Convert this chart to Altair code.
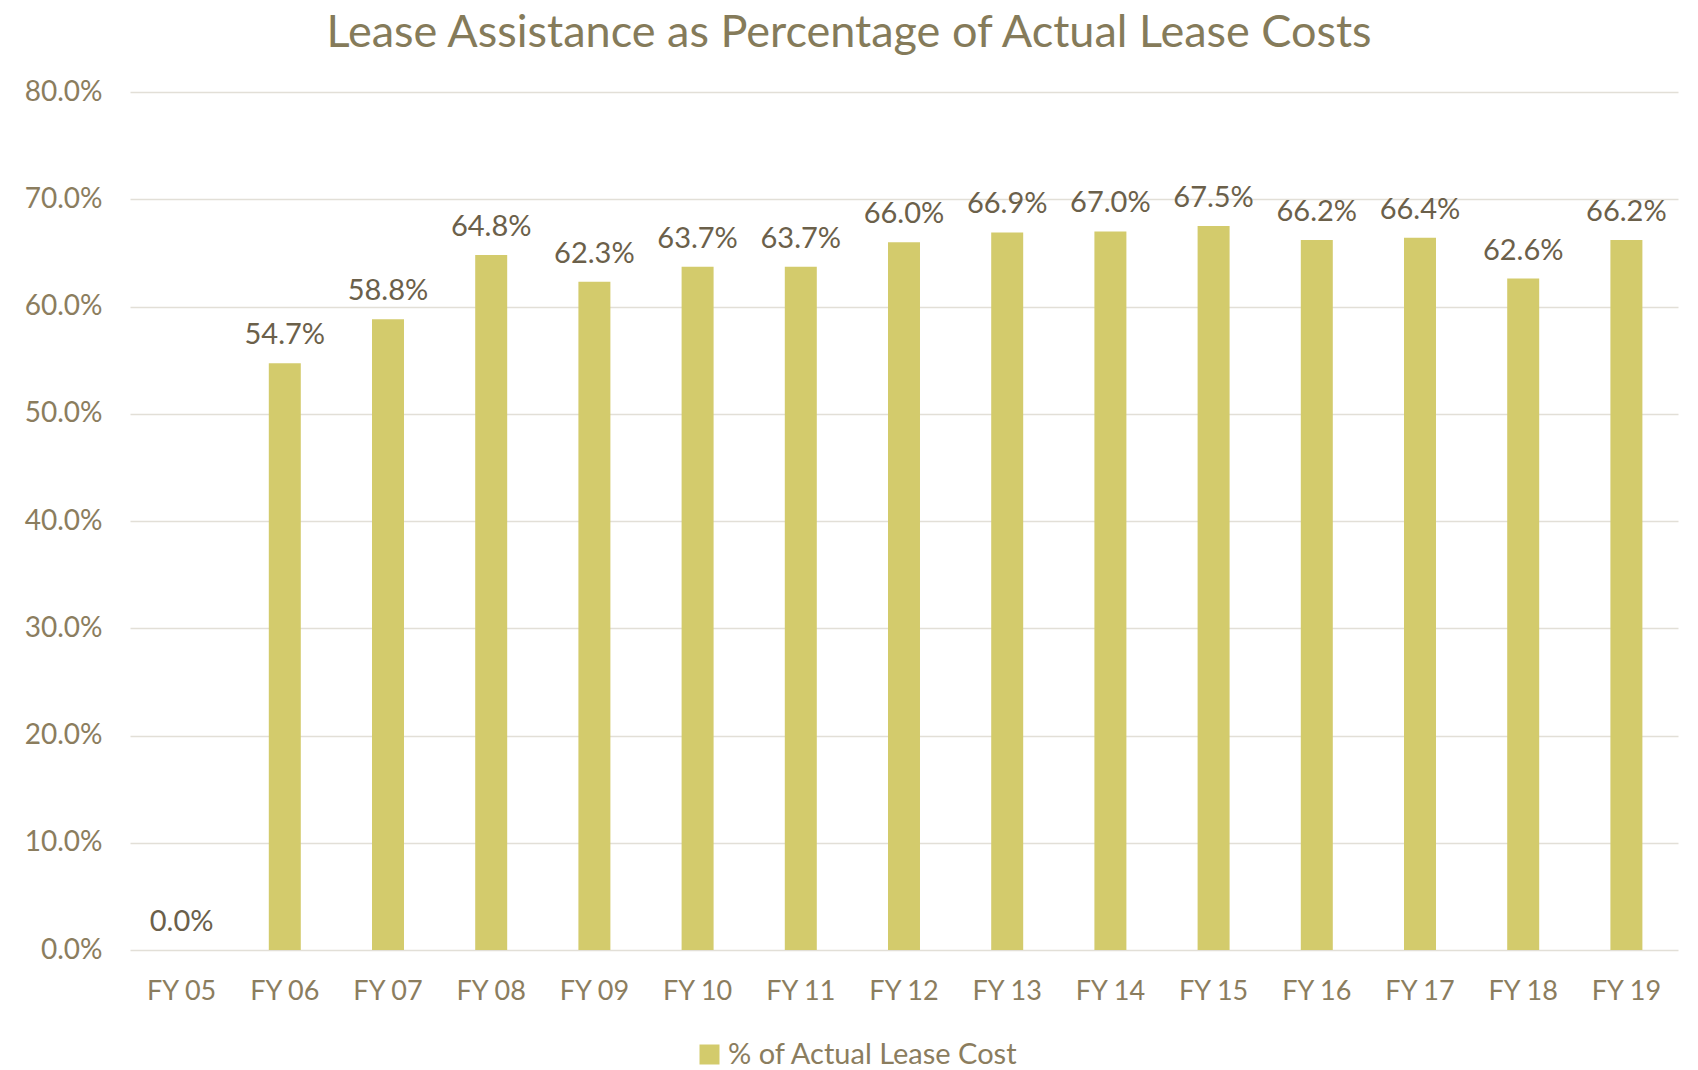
import altair as alt
import pandas as pd

years = ["FY 05", "FY 06", "FY 07", "FY 08", "FY 09", "FY 10", "FY 11", "FY 12",
         "FY 13", "FY 14", "FY 15", "FY 16", "FY 17", "FY 18", "FY 19"]
values = [0.0, 54.7, 58.8, 64.8, 62.3, 63.7, 63.7, 66.0, 66.9, 67.0, 67.5, 66.2, 66.4, 62.6, 66.2]
series_name = "% of Actual Lease Cost"

df = pd.DataFrame({"year": years, "value": [v / 100 for v in values], "series": series_name})

FONT = "Lato"
AXIS_C = "#8B7D5E"
LABEL_C = "#6B604A"
BAR_C = "#D3CB6C"

x = alt.X("year:N", sort=years, title=None,
          scale=alt.Scale(paddingInner=0.69, paddingOuter=0.345),
          axis=alt.Axis(labelAngle=0, labelFontSize=27, labelColor=AXIS_C, labelFont=FONT,
                        labelPadding=28, domain=False, ticks=False))
y = alt.Y("value:Q", title=None, scale=alt.Scale(domain=[0, 0.8], nice=False),
          axis=alt.Axis(format=".1%", values=[i / 10 for i in range(9)], labelFontSize=28,
                        labelColor=AXIS_C, labelFont=FONT, labelPadding=28, domain=False,
                        ticks=False, gridColor="#E2DFD7", gridWidth=1.5))

bars = alt.Chart(df).mark_bar(color=BAR_C).encode(
    x=x, y=y,
    color=alt.Color("series:N", scale=alt.Scale(range=[BAR_C]), title=None,
                    legend=alt.Legend(orient="none", legendX=565, legendY=1058 - 92 - 18,
                                      symbolType="square", symbolSize=400, labelFontSize=29,
                                      labelColor=AXIS_C, labelFont=FONT, symbolStrokeWidth=0,
                                      labelLimit=500)))

labels = alt.Chart(df).mark_text(baseline="alphabetic", dy=-19, fontSize=29, color=LABEL_C,
                                 font=FONT).encode(
    x=alt.X("year:N", sort=years),
    y="value:Q",
    text=alt.Text("value:Q", format=".1%"))

chart = alt.layer(bars, labels).properties(
    width=1548, height=858,
    padding={"left": 122, "top": 84, "right": 10, "bottom": 118},
    autosize=alt.AutoSizeParams(type="none"),
    title=alt.TitleParams("Lease Assistance as Percentage of Actual Lease Costs", fontSize=45,
                          font=FONT, fontWeight="normal", color="#857B5A", anchor="middle",
                          dx=-55, offset=22),
).configure_view(stroke=None)

chart.save("out.html", embed_options={"renderer": "svg", "actions": False})
